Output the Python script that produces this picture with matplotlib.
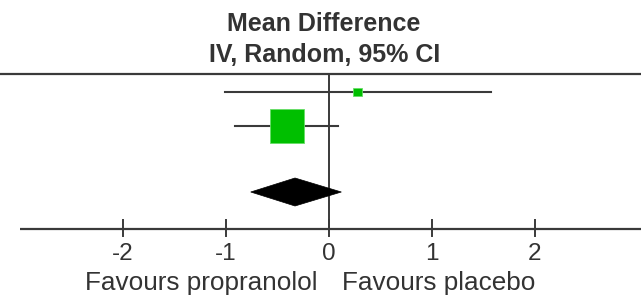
import numpy as np
import matplotlib
matplotlib.use("Agg")
import matplotlib.pyplot as plt
from matplotlib.patches import Rectangle, Polygon

# Study estimates (mean difference, 95% CI) and weights (%)
study_md = [0.28, -0.41]
study_lo = [-1.01, -0.91]
study_hi = [1.57, 0.09]
study_weight = [6.5, 93.5]

# Pooled estimate
pooled_md = -0.33
pooled_lo = -0.76
pooled_hi = 0.12

tick_values = [-2, -1, 0, 1, 2]
tick_labels = ["-2", "-1", "0", "1", "2"]
left_label = "Favours propranolol"
right_label = "Favours placebo"
title_lines = ["Mean Difference", "IV, Random, 95% CI"]

W, H = 641, 295
X0, SCALE = 329, 103  # pixel of zero, pixels per unit

fig = plt.figure(figsize=(W / 100, H / 100), dpi=100)
ax = fig.add_axes([0, 0, 1, 1])
ax.set_xlim(-X0 / SCALE, (W - X0) / SCALE)
ax.set_ylim(H, 0)
ax.axis("off")

line_col = "#3a3a3a"
text_col = "#333333"
font = "Liberation Sans"

# header
ax.text(-0.05, 31, title_lines[0], ha="center", va="baseline", fontsize=18,
        fontweight="bold", family=font, color=text_col)
ax.text(-0.04, 62, title_lines[1], ha="center", va="baseline", fontsize=18,
        fontweight="bold", family=font, color=text_col)
ax.plot([-X0 / SCALE, (W - X0) / SCALE], [73.5, 73.5], color=line_col, lw=1.6,
        solid_capstyle="butt")

# zero line and x axis
axis_y = 229
ax.plot([0, 0], [73.5, axis_y], color=line_col, lw=1.4)
ax.plot([-3.0, (W - X0) / SCALE], [axis_y, axis_y], color=line_col, lw=1.6,
        solid_capstyle="butt")
for v, lab in zip(tick_values, tick_labels):
    ax.plot([v, v], [220, 236], color=line_col, lw=1.4)
    ax.text(v, 260, lab, ha="center", va="baseline", fontsize=17.5,
            family=font, color=text_col)
ax.text(-11 / SCALE, 290, left_label, ha="right", va="baseline", fontsize=18.8,
        family=font, color=text_col)
ax.text(13 / SCALE, 290, right_label, ha="left", va="baseline", fontsize=18.8,
        family=font, color=text_col)

# studies
rows = [92, 126]
green = "#00bf00"
for y, md, lo, hi, w in zip(rows, study_md, study_lo, study_hi, study_weight):
    ax.plot([lo, hi], [y, y], color=line_col, lw=1.5, zorder=2)
    side = 35 * np.sqrt(w / 100)
    ax.add_patch(Rectangle((md - side / 2 / SCALE, y - side / 2), side / SCALE, side,
                           facecolor=green, edgecolor="#66dd66", lw=0.6, zorder=3))

# pooled diamond
dy, dh = 192, 14
ax.add_patch(Polygon([[pooled_lo, dy], [pooled_md, dy - dh], [pooled_hi, dy],
                      [pooled_md, dy + dh]], closed=True, facecolor="black",
                     edgecolor="black", lw=0.5, zorder=3))

fig.savefig("out.png", dpi=100)
